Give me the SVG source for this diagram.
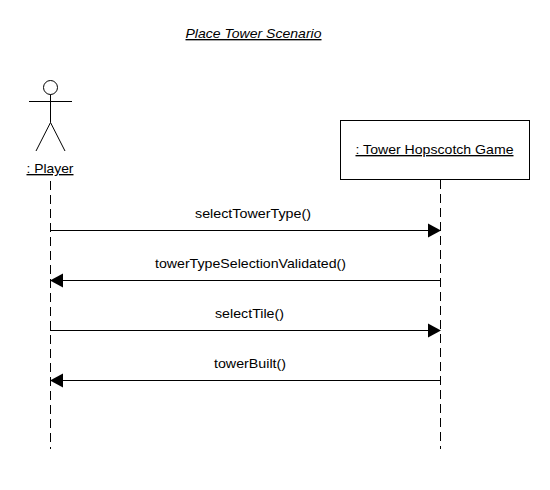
<svg xmlns="http://www.w3.org/2000/svg" width="550" height="490" viewBox="0 0 550 490">
<style>
text{font-family:"Liberation Sans",Arial,sans-serif;font-size:13.500px;fill:#000;text-anchor:middle}
.u{text-decoration:underline}
.line{stroke:#000;stroke-width:1;fill:none}
.life{stroke:#000;stroke-width:1;stroke-dasharray:9 5;fill:none}
.head{fill:#000;stroke:none}
</style>
<rect width="550" height="490" fill="#fff"/>
<text id="title" class="u" x="253.500" y="38" font-style="italic" textLength="136" lengthAdjust="spacingAndGlyphs">Place Tower Scenario</text>
<g id="player">
<circle class="line" cx="50.500" cy="87.500" r="7"/>
<path class="line" d="M50.500 94.500V122.500M29 101.500H72M50.500 122.500L36 151M50.500 122.500L65 151"/>
<text class="u" x="50" y="173" textLength="47" lengthAdjust="spacingAndGlyphs">: Player</text>
</g>
<g id="game">
<rect class="line" x="340.500" y="120.500" width="189" height="59"/>
<text class="u" x="434.500" y="154" textLength="158" lengthAdjust="spacingAndGlyphs">: Tower Hopscotch Game</text>
</g>
<g id="connectors">
<path class="life" d="M50.500 181V449"/>
<path class="life" d="M440.500 180V449"/>
<path class="line" d="M50 230.500H429"/>
<path class="head" d="M441 230.500L428 223.500V237.500Z"/>
<path class="line" d="M441 280.500H62"/>
<path class="head" d="M50 280.500L63 273.500V287.500Z"/>
<path class="line" d="M50 330.500H429"/>
<path class="head" d="M441 330.500L428 323.500V337.500Z"/>
<path class="line" d="M441 380.500H62"/>
<path class="head" d="M50 380.500L63 373.500V387.500Z"/>
<text x="253" y="218" textLength="116" lengthAdjust="spacingAndGlyphs">selectTowerType()</text>
<text x="250.500" y="268" textLength="191" lengthAdjust="spacingAndGlyphs">towerTypeSelectionValidated()</text>
<text x="249.500" y="318" textLength="69" lengthAdjust="spacingAndGlyphs">selectTile()</text>
<text x="250" y="368" textLength="72" lengthAdjust="spacingAndGlyphs">towerBuilt()</text>
</g>
</svg>
